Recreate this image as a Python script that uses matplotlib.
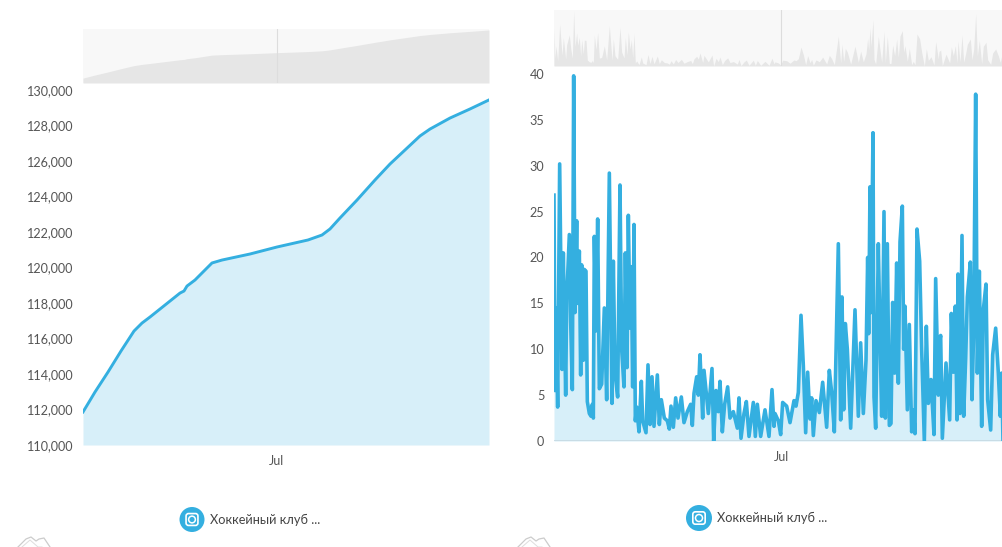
import matplotlib
matplotlib.use('Agg')
import matplotlib.pyplot as plt
from matplotlib.patches import Circle, FancyBboxPatch

plt.rcParams['font.family'] = ['Lato', 'Open Sans', 'DejaVu Sans']

W, H = 1003, 547
BLUE = '#34afe0'
FILL = '#d7eff9'
TXT = '#555555'

# time index of the samples
left_t = [0, 6, 12, 25, 38, 51, 59, 67, 77, 87, 97, 101, 104, 112, 122, 129,
          139, 167, 194, 225, 239, 247, 257, 274, 292, 307, 322, 337, 347, 367, 387, 406]
left_v = [111860, 112420, 112985, 114110, 115295, 116420, 116870, 117210, 117660, 118110, 118560, 118675, 118955, 119295, 119860, 120255,
          120420, 120760, 121155, 121550, 121830, 122170, 122790, 123800, 124930, 125830, 126620, 127410, 127800, 128420, 128930, 129440]
left_ticks = [110000, 112000, 114000, 116000, 118000, 120000, 122000, 124000, 126000, 128000, 130000]
left_jul = 194

right_t = [0, 3, 6, 11, 17, 24, 28, 35, 38, 46,
           50, 55, 59, 63, 68, 71, 76, 80, 83, 88,
           91, 96, 100, 106, 111, 115, 118, 121, 126, 131,
           136, 143, 151, 158, 166, 174, 178, 183, 191, 198,
           203, 210, 214, 219, 223, 228, 232, 236, 240, 244,
           248, 255, 262, 266, 276, 282, 288, 294, 300, 310,
           316, 322, 331, 340, 346, 351, 358, 365, 372, 382,
           390, 400, 410, 415, 420, 428, 433, 438, 446, 450,
           463, 474, 479, 486, 493, 498, 505, 512, 521, 528,
           538, 550, 555, 561, 570, 577, 585, 598, 604, 610,
           620, 633, 645, 654, 660, 663, 673, 680, 686, 698,
           708, 720, 726, 733, 741, 748, 755, 761, 768, 773,
           778, 786, 796, 806, 818, 826, 833, 841,
           853, 860, 864, 869, 874, 880, 890, 903, 913, 920,
           928, 936, 941, 944, 948, 951, 957, 960, 965, 973,
           978, 983, 990, 994, 1000, 1006, 1011, 1016, 1022, 1028,
           1033, 1038, 1045, 1049, 1053, 1060, 1066, 1073, 1078, 1083,
           1089, 1097, 1103, 1111, 1117, 1123, 1131, 1140, 1145, 1153,
           1155, 1160, 1165, 1176, 1187, 1192, 1198, 1204, 1209, 1212,
           1218, 1224, 1229, 1235, 1240, 1249, 1254, 1259, 1265, 1270,
           1276, 1283, 1288, 1296, 1301, 1310, 1316, 1325, 1333, 1339,
           1343, 1347]
right_v = [26.8, 5.5, 14.5, 3.7, 30.2, 7.8, 20.5, 5, 15.4, 22.5,
           13, 5.6, 39.8, 14, 24, 15, 20.7, 7.2, 19.2, 8.8,
           18.7, 18.5, 4.3, 3, 2.7, 4, 2.5, 22.3, 12, 24.2,
           5.7, 6.2, 14.5, 4.5, 29.2, 4.1, 19.6, 7.4, 4.8, 27.9,
           10, 5.9, 20.5, 8, 24.6, 12.3, 19, 5.9, 23.6, 2.2,
           3.7, 1, 6.5, 2.2, 0.9, 8.3, 1.8, 7, 1.6, 7.2,
           1.8, 4.5, 2.5, 2.2, 1.3, 3.8, 1.5, 4.7, 2.5, 4.8,
           2, 3.2, 4, 1.7, 5.2, 7, 5, 9.4, 2.5, 7.7,
           3, 7.9, 0, 5.5, 3.2, 6.5, 1, 4, 5.9, 2.5,
           3.2, 1.4, 4.7, 0.3, 3, 4.3, 0.5, 4.2, 0.5, 4,
           0.5, 3.4, 0.5, 5.6, 1.6, 3, 2.2, 0.7, 4.2, 3.8,
           2, 4.4, 3.8, 5.3, 13.7, 8.2, 0.9, 7.5, 2.4, 4.7,
           0.6, 4.4, 3.1, 6.4, 1.5, 7.7, 5.3, 1,
           21.5, 2.3, 15.7, 3.4, 12.8, 10, 1.4, 14.3, 2.7, 10.7,
           3, 8.8, 20, 11.7, 27.7, 14, 33.6, 4.8, 1.4, 21.5,
           11.7, 2.7, 25, 2.5, 21.5, 1.7, 1.9, 15.1, 7.4, 19.4,
           6.3, 21.7, 25.6, 10, 14.7, 3.4, 12.7, 1, 3.4, 0.8,
           23.1, 19.6, 10, 0, 12.5, 4.1, 6.7, 0.7, 17.7, 5,
           10.5, 11.5, 0.3, 8.5, 2.3, 13.9, 7.5, 14.7, 2.3, 18.2,
           3, 22.4, 2.7, 9, 15.7, 19.5, 4.5, 12, 37.8, 7.4,
           18.5, 1.6, 14.3, 17.1, 4.5, 1.2, 9.4, 12.3, 7.4, 2.7,
           7.4, 0]
right_ticks = [0, 5, 10, 15, 20, 25, 30, 35, 40]
right_jul = 681
legend_label = 'Хоккейный клуб ...'


def box(x0, y0, x1, y1):
    # pixel box, y counted from the top of the picture
    return [x0 / W, 1 - y1 / H, (x1 - x0) / W, (y1 - y0) / H]


fig = plt.figure(figsize=(W / 100, H / 100), dpi=100, facecolor='white')


def main_chart(rect, t, v, tmax, ylim, ticks, fmt, jul, lw, pad):
    ax = fig.add_axes(rect)
    ax.fill_between(t, v, ylim[0], color=FILL, lw=0)
    ax.plot(t, v, color=BLUE, lw=lw, solid_joinstyle='round')
    ax.set_xlim(0, tmax)
    ax.set_ylim(*ylim)
    ax.set_yticks(ticks)
    ax.set_yticklabels([fmt.format(i) for i in ticks], color=TXT, fontsize=9.1)
    ax.set_xticks([jul])
    ax.set_xticklabels(['Jul'], color=TXT, fontsize=9)
    ax.tick_params(length=0, axis='both')
    ax.tick_params(axis='y', pad=pad)
    ax.tick_params(axis='x', pad=7.5)
    for s in ax.spines.values():
        s.set_visible(False)
    return ax


def overview(rect, t, v, tmax, ylim, jul):
    ax = fig.add_axes(rect)
    ax.set_facecolor('#f8f8f8')
    ax.fill_between(t, v, ylim[0], color='#e6e6e6', lw=0)
    ax.axvline(jul, color='#dddddd', lw=0.8)
    ax.set_xlim(0, tmax)
    ax.set_ylim(*ylim)
    ax.set_xticks([])
    ax.set_yticks([])
    for s in ax.spines.values():
        s.set_visible(False)


main_chart(box(83, 90, 489, 445), left_t, left_v, 406, (110000, 130000), left_ticks, '{:,}', left_jul, 2.1, 7)
overview(box(83, 29, 489, 83), left_t, left_v, 406, (110070, 129800), left_jul)

ax2 = main_chart(box(554, 74, 1003, 441), right_t, right_v, 1347, (0, 40), right_ticks, '{}', right_jul, 2.6, 7)
ax2.axhline(0, color='#c5d9e2', lw=1.2, zorder=1)
overview(box(554, 10, 1003, 66), right_t, right_v, 1347, (0, 40.5), right_jul)

# legend icons and the small logos at the bottom, in picture pixels
ov = fig.add_axes([0, 0, 1, 1], facecolor='none')
ov.set_xlim(0, W)
ov.set_ylim(H, 0)
ov.axis('off')


def legend(cx, cy, r, tx):
    ov.add_patch(Circle((cx, cy), r, color=BLUE, lw=0))
    s = r * 0.95
    ov.add_patch(FancyBboxPatch((cx - s / 2, cy - s / 2), s, s, boxstyle='round,pad=0,rounding_size=2.5',
                                fc='none', ec='white', lw=1.2))
    ov.add_patch(Circle((cx, cy), r * 0.27, fc='none', ec='white', lw=1.1))
    ov.text(tx, cy, legend_label, color='#444444', fontsize=9.2, va='center', ha='left')


def logo(x):
    ov.plot([x, x + 8, x + 13, x + 18, x + 21, x + 26, x + 32], [547, 539, 537, 541, 539, 538, 547],
            color='#cccccc', lw=0.9)
    ov.plot([x + 4, x + 12, x + 20, x + 24], [547, 540, 547, 547], color='#dddddd', lw=0.7)


legend(192, 519.5, 12.5, 210)
legend(699, 518, 13, 717)
logo(18)
logo(518)

fig.savefig('out.png', dpi=100)
